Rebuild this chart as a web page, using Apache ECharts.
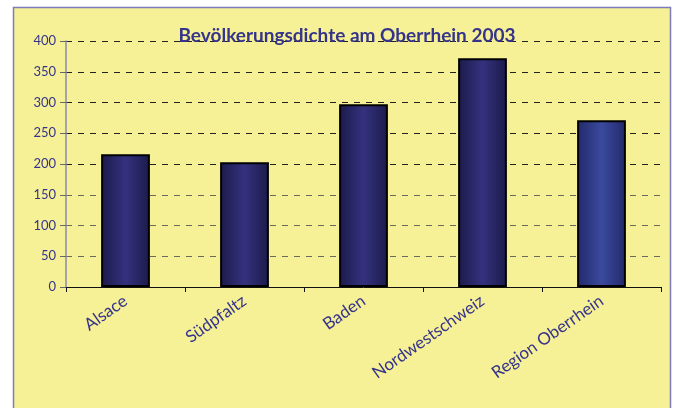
<!DOCTYPE html>
<html>
<head>
<meta charset="utf-8">
<script src="https://cdn.jsdelivr.net/npm/echarts@6/dist/echarts.min.js"></script>
<style>
  html, body { margin: 0; padding: 0; background: #fff; }
  #chart { width: 678px; height: 408px; }
</style>
</head>
<body>
<div id="chart"></div>
<script>
// Daten
const regions = ['Alsace', 'Südpfaltz', 'Baden', 'Nordwestschweiz', 'Region Oberrhein'];
const density = [216, 203, 297, 372, 271];
const barColors = [
  ['#1c1a4a', '#34327e'],
  ['#1c1a4a', '#34327e'],
  ['#1c1a4a', '#34327e'],
  ['#1c1a4a', '#34327e'],
  ['#23296a', '#3a4a9e']
];

const textColor = '#35348a';
const chart = echarts.init(document.getElementById('chart'));

const gradient = (c) => new echarts.graphic.LinearGradient(0, 0, 1, 0, [
  { offset: 0, color: c[0] },
  { offset: 0.5, color: c[1] },
  { offset: 1, color: c[0] }
]);

const option = {
  backgroundColor: '#fff',
  animation: false,
  graphic: [
    {
      type: 'rect',
      z: -10,
      shape: { x: 13.5, y: 7.5, width: 657, height: 420 },
      style: { fill: '#f6f096', stroke: '#7c7cba', lineWidth: 1.5 }
    }
  ],
  title: {
    text: 'Bevölkerungsdichte am Oberrhein 2003',
    left: 342,
    top: 21,
    textAlign: 'center',
    textStyle: {
      fontFamily: 'Lato',
      fontWeight: 'bold',
      fontSize: 19,
      color: textColor
    }
  },
  grid: { left: 66, right: 17, top: 41, bottom: 121 },
  xAxis: {
    type: 'category',
    data: regions,
    axisLine: { lineStyle: { color: '#111', width: 1 } },
    axisTick: { show: true, length: 5, lineStyle: { color: '#111' } },
    axisLabel: {
      rotate: 35,
      margin: 12,
      fontFamily: 'Lato',
      fontSize: 17,
      color: textColor
    }
  },
  yAxis: {
    type: 'value',
    min: 0,
    max: 400,
    interval: 50,
    axisLine: { show: true, lineStyle: { color: '#8a8ab0', width: 1.5 } },
    axisTick: { show: true, inside: false, length: 6, lineStyle: { color: '#666' } },
    axisLabel: {
      margin: 10,
      fontFamily: 'Lato',
      fontSize: 13,
      color: textColor
    },
    splitLine: {
      lineStyle: {
        type: [6, 6],
        color: ['#666', '#6a6a5a', '#6a6a5a', '#6a6a5a', '#222', '#222', '#222', '#222', '#222'],
        width: 1
      }
    }
  },
  series: [
    {
      type: 'bar',
      barWidth: '41%',
      data: density.map((v, i) => ({
        value: v,
        itemStyle: {
          color: gradient(barColors[i]),
          borderColor: '#000',
          borderWidth: 2
        }
      }))
    }
  ]
};

chart.setOption(option);
</script>
</body>
</html>
